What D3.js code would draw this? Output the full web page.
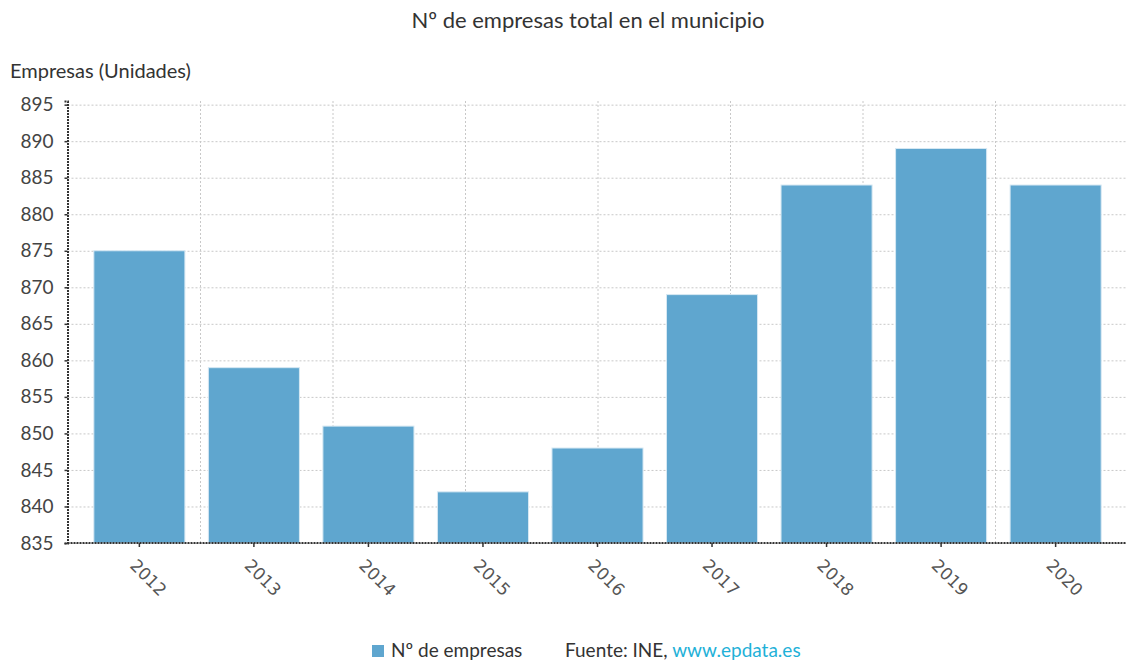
<!DOCTYPE html>
<html>
<head>
<meta charset="utf-8">
<script src="https://cdn.jsdelivr.net/npm/d3@7"></script>
<style>
  html, body { margin: 0; padding: 0; background: #fff; }
  svg { display: block; font-family: Lato, "Noto Sans", sans-serif; }
</style>
</head>
<body>
<svg id="chart" width="1126" height="660"></svg>
<script>
// Number of companies per year
const years = ["2012", "2013", "2014", "2015", "2016", "2017", "2018", "2019", "2020"];
const empresas = [875, 859, 851, 842, 848, 869, 884, 889, 884];
const yTicks = [835, 840, 845, 850, 855, 860, 865, 870, 875, 880, 885, 890, 895];

const svg = d3.select("#chart");
const plotLeft = 67.5, plotRight = 1127.5, plotTop = 101, plotBottom = 543;

const x = d3.scaleBand().domain(years).range([plotLeft, plotRight])
  .paddingInner(0.205).paddingOuter(0.23);
const y = d3.scaleLinear().domain([835, 895.5]).range([plotBottom, plotTop]);
// vertical grid divides the plot into eight equal sections
const xg = d3.scaleLinear().domain([0, 8]).range([plotLeft, plotRight]);

const barColor = "#5fa6cf";
const gridColor = "#c8c8c8";

// Title
svg.append("text").attr("x", 588).attr("y", 28).attr("text-anchor", "middle")
  .attr("font-size", 22).attr("fill", "#333")
  .text("Nº de empresas total en el municipio");

// Y axis caption
svg.append("text").attr("x", 10).attr("y", 78)
  .attr("font-size", 20).attr("fill", "#333")
  .text("Empresas (Unidades)");

// Horizontal grid
svg.append("g").attr("transform", `translate(${plotLeft},0)`)
  .call(d3.axisLeft(y).tickValues(yTicks).tickSize(-(plotRight - plotLeft)).tickFormat(""))
  .call(g => g.select(".domain").remove())
  .call(g => g.selectAll("line").attr("stroke", gridColor).attr("stroke-dasharray", "2,2"));

// Vertical grid
svg.append("g").attr("transform", `translate(0,${plotBottom})`)
  .call(d3.axisBottom(xg).tickValues(d3.range(1, 8)).tickSize(-(plotBottom - plotTop)).tickFormat(""))
  .call(g => g.select(".domain").remove())
  .call(g => g.selectAll("line").attr("stroke", gridColor).attr("stroke-dasharray", "2,2"));

// Bars
svg.append("g").selectAll("rect").data(years).join("rect")
  .attr("x", d => x(d))
  .attr("width", x.bandwidth())
  .attr("y", (d, i) => y(empresas[i]))
  .attr("height", (d, i) => plotBottom - y(empresas[i]))
  .attr("fill", barColor)
  .attr("stroke", "#d6e8f3").attr("stroke-width", 1);

// Y axis
const yAxis = svg.append("g").attr("transform", `translate(${plotLeft},0)`)
  .call(d3.axisLeft(y).tickValues(yTicks).tickSize(3).tickPadding(11));
yAxis.select(".domain").attr("stroke", "#333").attr("stroke-width", 2).attr("stroke-dasharray", "2,1");
yAxis.selectAll(".tick line").attr("stroke", "#333").attr("stroke-width", 1.5);
yAxis.selectAll("text").attr("font-size", 19).attr("fill", "#444")
  .attr("font-family", "Lato, 'Noto Sans', sans-serif");

// X axis
const xAxis = svg.append("g").attr("transform", `translate(0,${plotBottom})`)
  .call(d3.axisBottom(x).tickSize(4).tickSizeOuter(0).tickPadding(8));
xAxis.select(".domain").attr("stroke", "#333").attr("stroke-width", 2).attr("stroke-dasharray", "2,1")
  .attr("d", `M${plotLeft},0H${plotRight}`);
xAxis.selectAll(".tick line").attr("stroke", "#333").attr("stroke-width", 1.5);
xAxis.selectAll("text")
  .attr("font-size", 17).attr("fill", "#555")
  .attr("font-family", "'DejaVu Sans', sans-serif")
  .attr("text-anchor", "start")
  .attr("dy", 0)
  .attr("transform", "translate(-2,15) rotate(45)");

// Legend and source
const legend = svg.append("g");
legend.append("rect").attr("x", 372).attr("y", 645).attr("width", 12).attr("height", 12).attr("fill", barColor);
legend.append("text").attr("x", 391).attr("y", 657).attr("font-size", 19).attr("fill", "#333")
  .text("Nº de empresas");
const src = legend.append("text").attr("x", 565).attr("y", 657).attr("font-size", 19).attr("fill", "#333");
src.append("tspan").text("Fuente: INE, ");
src.append("tspan").attr("fill", "#1fb1d8").text("www.epdata.es");
</script>
</body>
</html>
